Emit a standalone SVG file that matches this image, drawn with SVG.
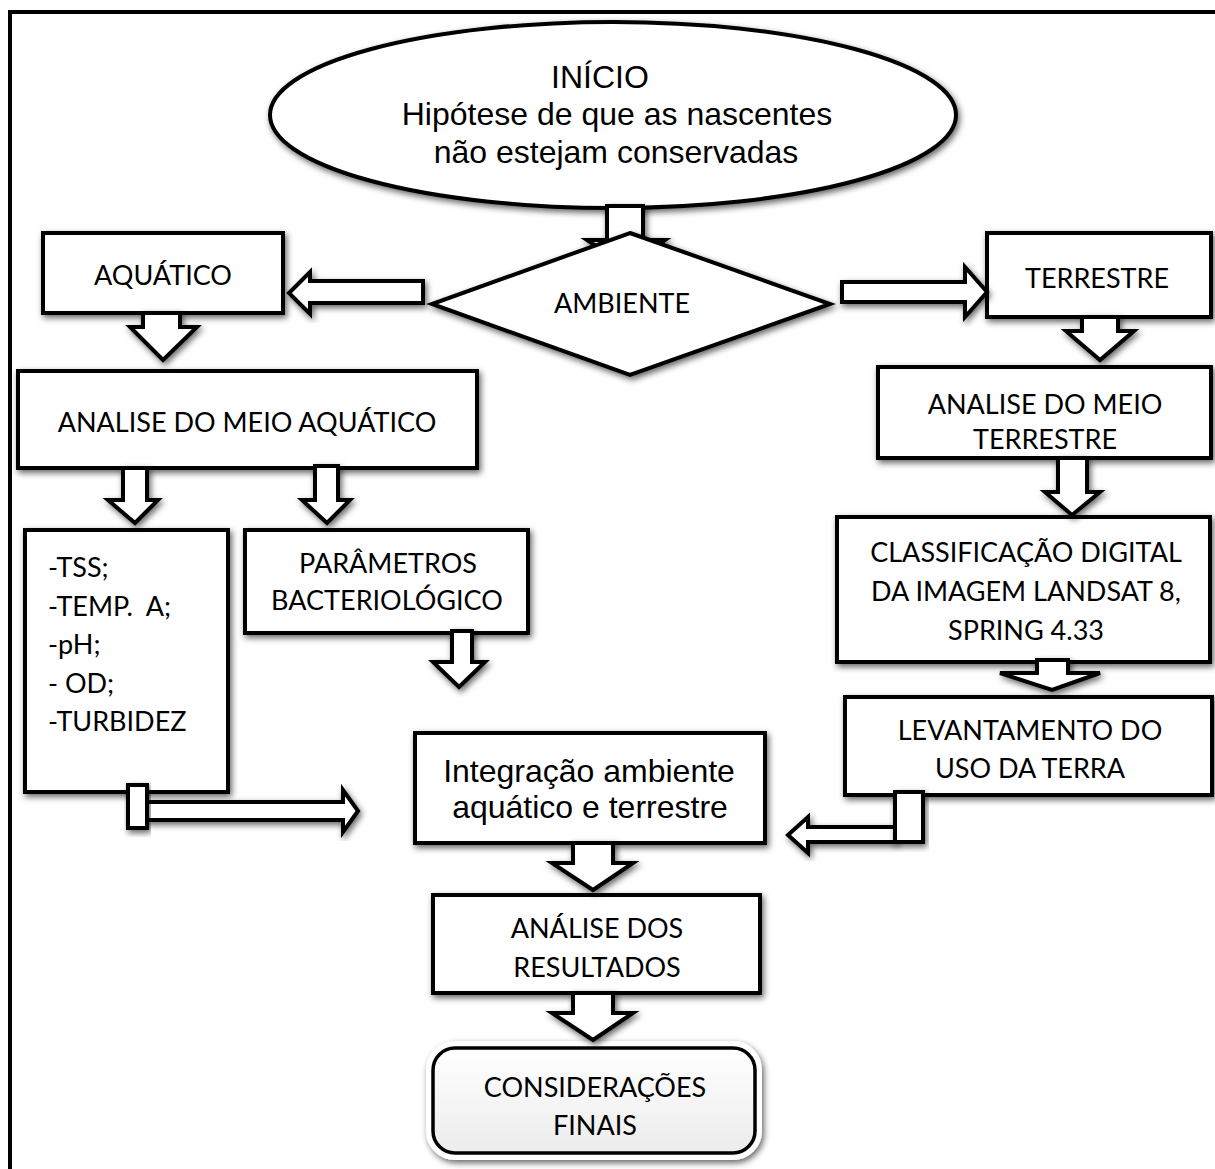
<svg xmlns="http://www.w3.org/2000/svg" width="1215" height="1169" viewBox="0 0 1215 1169">
<defs>
<filter id="sh" x="-20%" y="-20%" width="140%" height="140%">
<feDropShadow dx="2" dy="3" stdDeviation="3" flood-color="#000" flood-opacity="0.6"/>
</filter>
<linearGradient id="gr" x1="0" y1="0" x2="0" y2="1">
<stop offset="0" stop-color="#ffffff"/>
<stop offset="1" stop-color="#ececec"/>
</linearGradient>
</defs>
<style>
.b{fill:#fff;stroke:#000;stroke-width:4;filter:url(#sh)}
.a{fill:#fff;stroke:#000;stroke-width:4;stroke-linejoin:miter;filter:url(#sh)}
.c{font-family:Lato,"Liberation Sans",sans-serif;font-size:27px;fill:#000;text-anchor:middle}
.l{font-family:Lato,"Liberation Sans",sans-serif;font-size:27px;fill:#000}
.r{font-family:"Liberation Sans",Arial,sans-serif;font-size:32px;fill:#000;text-anchor:middle}
</style>
<rect width="1215" height="1169" fill="#fff"/>
<g id="frame">
<path d="M10,1169 V12 H1215" fill="none" stroke="#000" stroke-width="4"/>
</g>

<g id="inicio">
<ellipse class="b" cx="613" cy="115" rx="343" ry="93"/>
<text class="r" x="600" y="88">INÍCIO</text>
<text class="r" x="617" y="125">Hipótese de que as nascentes</text>
<text class="r" x="616" y="163">não estejam conservadas</text>
</g>

<g id="connectors-top">
<path class="a" d="M607,206 H643 V240 H665 L626,266 L587,240 H607 Z"/>
</g>

<g id="ambiente">
<polygon class="b" points="630,233 830,304 630,375 432,304"/>
<text class="c" x="622" y="313">AMBIENTE</text>
</g>

<g id="aquatico">
<rect class="b" x="43" y="233" width="240" height="80"/>
<text class="c" x="163" y="285">AQUÁTICO</text>
</g>

<g id="terrestre">
<rect class="b" x="987" y="233" width="224" height="84"/>
<text class="c" x="1097" y="288">TERRESTRE</text>
</g>

<g id="analise-aquatico">
<rect class="b" x="18" y="371" width="459" height="97"/>
<text class="c" x="247" y="432">ANALISE DO MEIO AQUÁTICO</text>
</g>

<g id="analise-terrestre">
<rect class="b" x="878" y="367" width="333" height="91"/>
<text class="c" x="1045" y="414">ANALISE DO MEIO</text>
<text class="c" x="1045" y="449">TERRESTRE</text>
</g>

<g id="parametros-fq">
<rect class="b" x="25" y="530" width="203" height="262"/>
<text class="l" x="48" y="577">-TSS;</text>
<text class="l" x="48" y="616" xml:space="preserve">-TEMP.  A;</text>
<text class="l" x="48" y="654">-pH;</text>
<text class="l" x="48" y="693">- OD;</text>
<text class="l" x="48" y="731">-TURBIDEZ</text>
</g>

<g id="parametros-bact">
<rect class="b" x="245" y="530" width="283" height="103"/>
<text class="c" x="388" y="573">PARÂMETROS</text>
<text class="c" x="387" y="610">BACTERIOLÓGICO</text>
</g>

<g id="classificacao">
<rect class="b" x="837" y="517" width="373" height="145"/>
<text class="c" x="1026" y="562">CLASSIFICAÇÃO DIGITAL</text>
<text class="c" x="1026" y="601">DA IMAGEM LANDSAT 8,</text>
<text class="c" x="1026" y="640">SPRING 4.33</text>
</g>

<g id="connector-class-lev">
<path class="a" d="M1037,660 H1068 V673 H1100 L1052,690 L1000,673 H1037 Z"/>
</g>

<g id="levantamento">
<rect class="b" x="845" y="697" width="367" height="98"/>
<text class="c" x="1030" y="740">LEVANTAMENTO DO</text>
<text class="c" x="1030" y="778">USO DA TERRA</text>
</g>

<g id="integracao">
<rect class="b" x="415" y="733" width="350" height="110"/>
<text class="r" x="589" y="782">Integração ambiente</text>
<text class="r" x="590" y="818">aquático e terrestre</text>
</g>

<g id="resultados">
<rect class="b" x="433" y="895" width="327" height="98"/>
<text class="c" x="597" y="938">ANÁLISE DOS</text>
<text class="c" x="597" y="977">RESULTADOS</text>
</g>

<g id="consideracoes">
<rect x="433" y="1048" width="322" height="105" rx="22" fill="#fff" stroke="#fff" stroke-width="14" filter="url(#sh)"/>
<rect x="433" y="1048" width="322" height="105" rx="22" fill="url(#gr)" stroke="#000" stroke-width="3.5"/>
<text class="c" x="595" y="1097">CONSIDERAÇÕES</text>
<text class="c" x="595" y="1135">FINAIS</text>
</g>

<g id="connectors">
<path class="a" d="M423,281 V303 H310 V314 L289,293 L310,272 V281 Z"/>
<path class="a" d="M842,282 V302 H965 V317 L987,292 L965,267 V282 Z"/>
<path class="a" d="M143,313 H180 V327 H197 L163,360 L130,327 H143 Z"/>
<path class="a" d="M1082,317 H1118 V331 H1134 L1100,360 L1066,331 H1082 Z"/>
<path class="a" d="M1058,458 H1087 V492 H1100 L1072,515 L1045,492 H1058 Z"/>
<path class="a" d="M123,468 H147 V500 H158 L135,523 L108,500 H123 Z"/>
<path class="a" d="M315,466 H338 V500 H350 L327,523 L302,500 H315 Z"/>
<path class="a" d="M452,631 H472 V662 H485 L459,687 L433,662 H452 Z"/>
<path class="a" d="M147,802 H343 V790 L358,811 L343,832 V820 H147 Z"/>
<rect class="a" x="128" y="785" width="19" height="43"/>
<path class="a" d="M895,827 H808 V817 L788,835 L808,853 V842 H895 Z"/>
<rect class="a" x="895" y="792" width="28" height="50"/>
<path class="a" d="M573,843 H613 V863 H633 L593,890 L552,863 H573 Z"/>
<path class="a" d="M573,993 H613 V1013 H633 L593,1040 L552,1013 H573 Z"/>
</g>
</svg>
